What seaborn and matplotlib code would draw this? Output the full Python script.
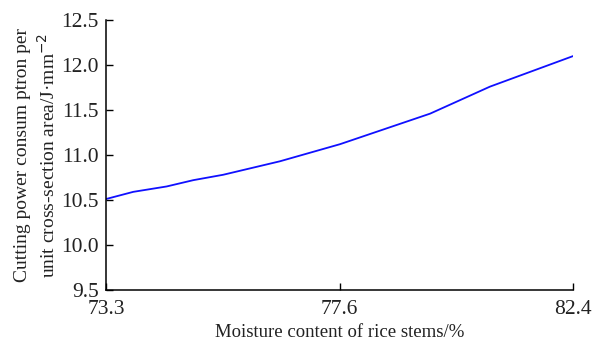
import matplotlib
matplotlib.use("Agg")
import matplotlib.pyplot as plt
import seaborn as sns
import pandas as pd

# Coded moisture level (-1 .. 1) and the fitted cutting energy per unit area
coded_level = [-1.0, -0.883, -0.74, -0.626, -0.498, -0.255, 0.002, 0.388, 0.644, 1.0]
energy = [10.51, 10.59, 10.65, 10.72, 10.78, 10.93, 11.12, 11.46, 11.76, 12.10]

tick_pos = [-1.0, 0.0, 1.0]
tick_labels = ["73.3", "77.6", "82.4"]
y_ticks = [9.5, 10.0, 10.5, 11.0, 11.5, 12.0, 12.5]

sns.set_theme(style="ticks")
plt.rcParams["font.family"] = ["Liberation Serif", "DejaVu Serif"]

df = pd.DataFrame({"level": coded_level, "energy": energy})

fig = plt.figure(figsize=(5.92, 3.41), dpi=100)
ax = fig.add_axes([0.179, 0.150, 0.789, 0.791])

sns.lineplot(data=df, x="level", y="energy", ax=ax, color="#1010ff", linewidth=1.3)

ax.set_xlim(-1.0, 1.0)
ax.set_ylim(9.5, 12.5)
ax.set_xticks(tick_pos)
ax.set_xticklabels(tick_labels)
ax.set_yticks(y_ticks)
ax.set_yticklabels([f"{v:.1f}" for v in y_ticks])

ax.tick_params(axis="both", direction="in", length=5, width=1, color="black",
               labelsize=15.5, labelcolor="#222222")
ax.tick_params(axis="y", pad=5)
ax.tick_params(axis="x", pad=7)
for side in ("left", "bottom"):
    ax.spines[side].set_color("black")
    ax.spines[side].set_linewidth(1.1)
sns.despine(ax=ax)

ax.set_xlabel("Moisture content of rice stems/%", fontsize=13.5, color="#222222", labelpad=4)
ax.set_ylabel("Cutting power consum ptron per\nunit cross-section area/J·mm$^{-2}$",
              fontsize=14, color="#222222", labelpad=2, linespacing=1.3)

fig.savefig("out.png", dpi=100)
